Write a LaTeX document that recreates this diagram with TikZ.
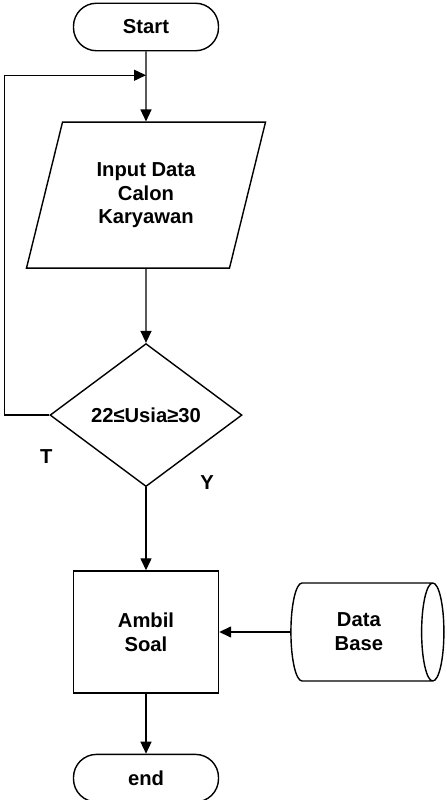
\documentclass[tikz,border=0pt]{standalone}
\usepackage{fontspec}
\setmainfont{Liberation Sans}
\usepackage{tikz}
\usetikzlibrary{arrows.meta,positioning,calc,shapes.geometric}

\begin{document}
\begin{tikzpicture}[
    >={Triangle[length=2.4mm,width=2.2mm]},
    font=\fontsize{11.5}{13.5}\selectfont\bfseries,
    line width=0.8pt,
    terminal/.style={draw, rounded corners=0.46cm, minimum width=2.9cm, minimum height=0.95cm, align=center},
    inputbox/.style={draw, trapezium, trapezium left angle=65, trapezium right angle=115, trapezium stretches body, minimum width=4.78cm, minimum height=2.92cm, align=center},
    decision/.style={draw, diamond, aspect=1.34, inner sep=0pt, minimum width=3.84cm, minimum height=2.86cm, align=center},
    process/.style={draw, minimum width=2.9cm, minimum height=2.44cm, align=center},
    storage/.style={draw, cylinder, shape aspect=0.45, minimum width=1.96cm, minimum height=3.06cm, align=center},
    flow/.style={->}
]
\useasboundingbox (0,0) rectangle (8.92,-16);

% Nodes
\node[terminal] (start) at (2.92,-0.54) {Start};
\node[inputbox, below=1.4cm of start] (inp) {Input Data\\Calon\\Karyawan};
\node[decision, below=1.48cm of inp] (dia) {22≤Usia≥30};
\node[process, below=1.66cm of dia] (ambil) {Ambil\\Soal};
\node[storage, right=1.42cm of ambil] (db) {Data\\Base};
\node[terminal, below=1.2cm of ambil] (stop) {end};

% Labels
\node at ($(dia.west)+(-0.06,-0.82)$) (lblT) {T};
\node at ($(dia.south)+(1.22,0.1)$) (lblY) {Y};

% Connectors
\coordinate (join) at ($(start.south)!0.34!(inp.north)$);
\draw (start) -- (join);
\draw[flow] (join) -- (inp);
\draw[flow] (inp) -- (dia);
\draw[flow] (dia) -- (ambil);
\draw[flow] (db) -- (ambil);
\draw[flow] (ambil) -- (stop);
\draw[flow] (dia.west) -- ++(-0.9,0) |- (join);

\end{tikzpicture}
\end{document}
